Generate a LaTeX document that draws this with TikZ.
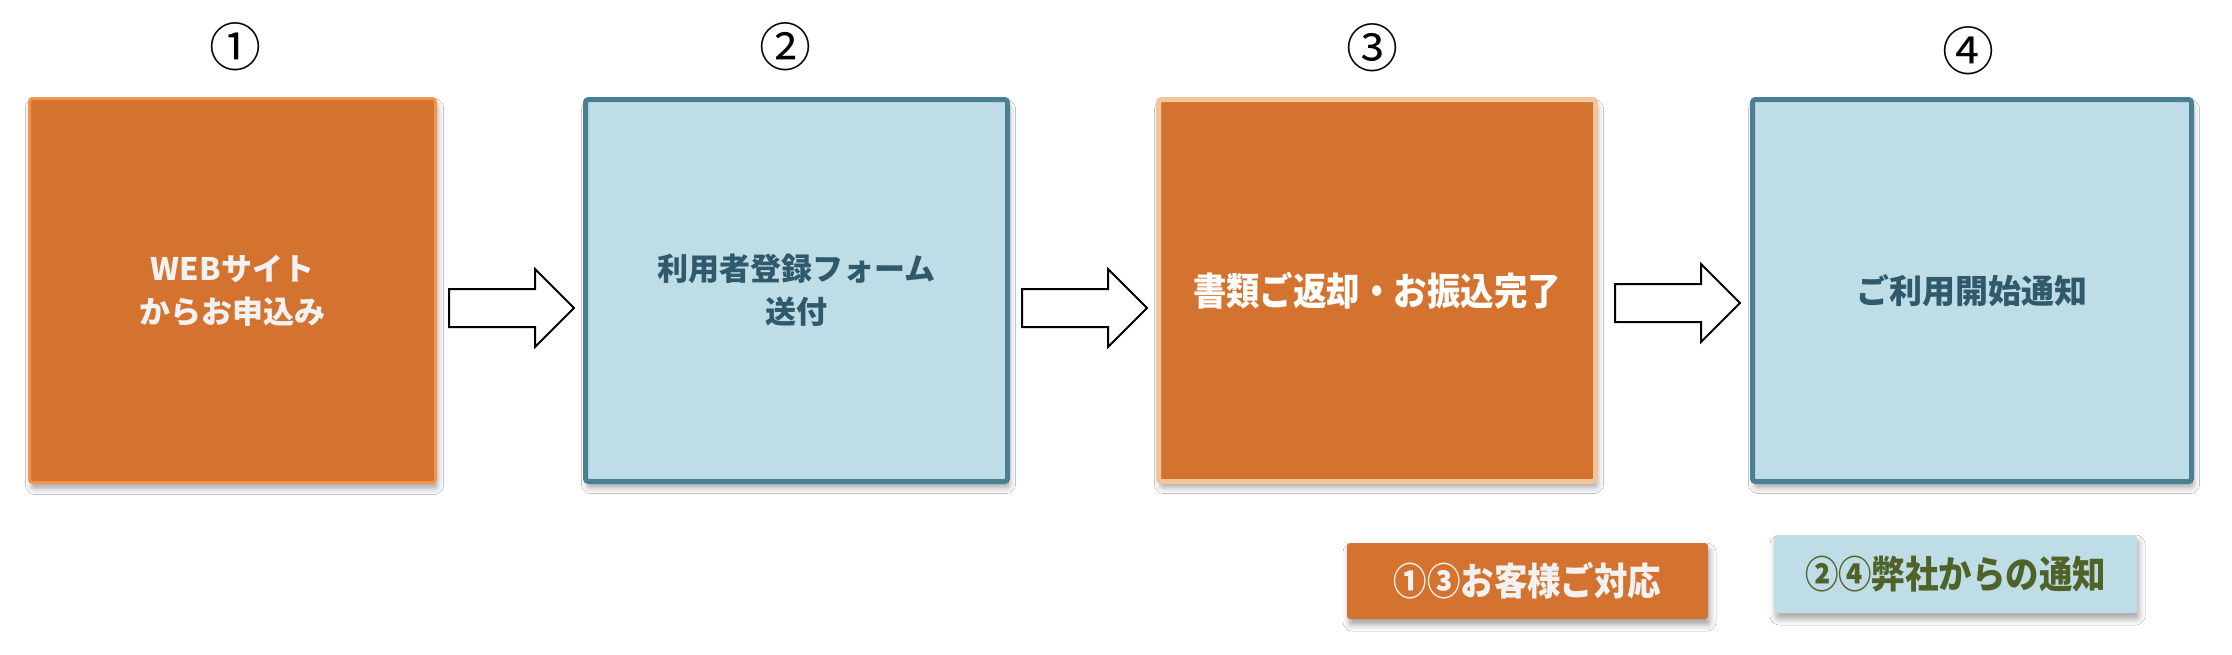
\documentclass[tikz,border=0pt]{standalone}
\usepackage{fontspec}
\newfontfamily\jp{Noto Sans CJK JP}
\newfontfamily\jpc{Noto Sans CJK JP}[FakeStretch=0.88]
\usetikzlibrary{shapes.arrows,shadows.blur,calc}
\definecolor{orfill}{HTML}{D4732F}
\definecolor{orline}{HTML}{EE9650}
\definecolor{peach}{HTML}{F2C49A}
\definecolor{bluefill}{HTML}{BFDDE6}
\definecolor{blueline}{HTML}{4A8096}
\definecolor{bluetext}{HTML}{305A6B}
\definecolor{olivetext}{HTML}{4F6228}
\tikzset{
  boxshadow/.style={blur shadow={shadow xshift=2pt,shadow yshift=-6pt,shadow blur radius=6pt,shadow opacity=35}},
  stepbox/.style={boxshadow,rounded corners=3pt,inner sep=0pt,align=center,
    font=\jp\bfseries\fontsize{31pt}{43pt}\selectfont},
  orbox/.style={stepbox,fill=orfill,draw=orline,line width=3pt,text=white!95!black},
  bluebox/.style={stepbox,fill=bluefill,draw=blueline,line width=5pt,text=bluetext},
  blockarrow/.style={single arrow,draw=black,line width=2pt,fill=white,anchor=tail,
    inner xsep=0pt,inner ysep=18pt,text height=0pt,text depth=0pt,
    minimum height=125pt,single arrow head extend=20pt},
  numlabel/.style={font=\jp\fontsize{52pt}{52pt}\selectfont,inner sep=0pt},
  legendbox/.style={boxshadow,rounded corners=3pt,inner sep=0pt,
    font=\jpc\bfseries\fontsize{38pt}{40pt}\selectfont}
}
\begin{document}
\begin{tikzpicture}[x=1pt,y=-1pt]
\useasboundingbox[fill=white] (0,0) rectangle (2232,654);
% step boxes
\node[orbox,minimum width=406pt,minimum height=384pt] (b1) at (232.5,290.5) {WEBサイト\\からお申込み};
\node[bluebox,minimum width=422pt,minimum height=382pt] (b2) at (796.5,290.5) {利用者登録フォーム\\送付};
\node[orbox,draw=peach,line width=5pt,minimum width=437pt,minimum height=382pt,
  font=\jpc\bfseries\fontsize{38pt}{43pt}\selectfont,text=white] (b3) at (1377,290.5) {書類ご返却・お振込完了};
\node[bluebox,minimum width=439pt,minimum height=382pt,
  font=\jp\bfseries\fontsize{33pt}{43pt}\selectfont] (b4) at (1972,290.5) {ご利用開始通知};
% numbers
\node[numlabel] (n1) at (235,47) {①};
\node[numlabel] (n2) at (785,47) {②};
\node[numlabel] (n3) at (1372,48) {③};
\node[numlabel] (n4) at (1968,51) {④};
% arrows
\node[blockarrow] (a1) at ($(b1.east)+(11,17.5)$) {};
\node[blockarrow] (a2) at ($(b2.east)+(11,17.5)$) {};
\node[blockarrow] (a3) at ($(b3.east)+(16,12.5)$) {};
% legend
\node[legendbox,fill=orfill,text=white!95!black,minimum width=361pt,minimum height=76pt] (l1) at (1527.5,581) {①③お客様ご対応};
\node[legendbox,fill=bluefill,text=olivetext,minimum width=363pt,minimum height=78pt] (l2) at (1955.5,574) {②④弊社からの通知};
\end{tikzpicture}
\end{document}
